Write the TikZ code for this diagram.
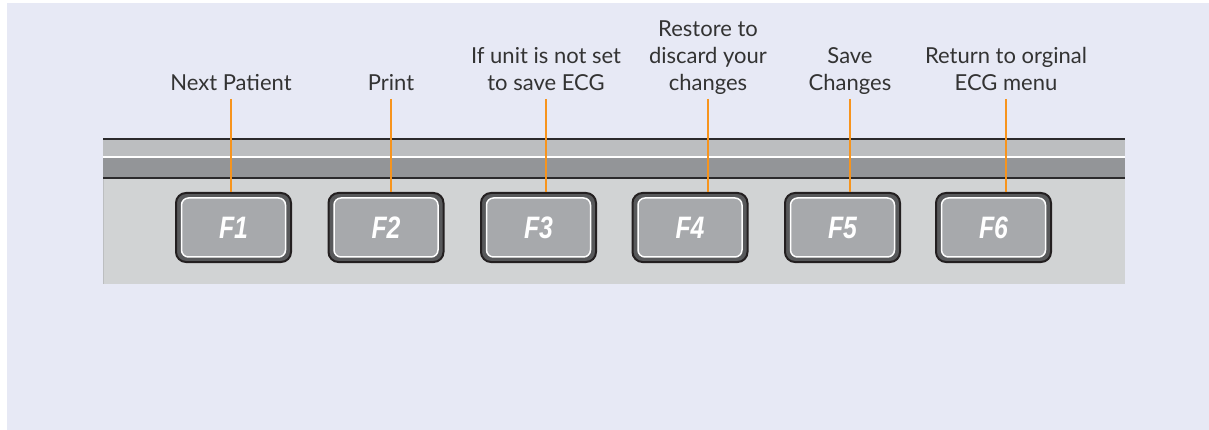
\documentclass[tikz,border=0pt]{standalone}
\usepackage{fontspec}
\setmainfont{Lato}
\newfontfamily\keyfont{Liberation Sans}
\definecolor{bgblue}{HTML}{E7E9F5}
\definecolor{panelgray}{HTML}{D1D3D4}
\definecolor{bandlight}{HTML}{BCBEC0}
\definecolor{banddark}{HTML}{939598}
\definecolor{panelline}{HTML}{2B2A2C}
\definecolor{keydark}{HTML}{58595B}
\definecolor{keyface}{HTML}{A7A9AC}
\definecolor{keyedge}{HTML}{231F20}
\definecolor{labelgray}{HTML}{333333}
\definecolor{leaderorange}{HTML}{F7941D}
\tikzset{
  fkey/.style={draw=keyedge, line width=2pt, fill=keydark, rounded corners=10pt,
    minimum width=115pt, minimum height=69pt, inner sep=0pt},
  fkeyface/.style={draw=white, line width=1.5pt, fill=keyface, rounded corners=7pt,
    minimum width=104pt, minimum height=59pt, inner sep=0pt},
  fkeytext/.style={text=white, inner sep=0pt,
    font=\keyfont\bfseries\itshape\fontsize{31}{31}\selectfont},
  callout/.style={text=labelgray, font=\fontsize{22}{27}\selectfont, align=center,
    anchor=south, inner sep=0pt, text depth=8pt},
  leader/.style={draw=leaderorange, line width=2.5pt}
}
\begin{document}
\begin{tikzpicture}[x=1pt,y=-1pt]
\useasboundingbox (0,0) rectangle (1209,430);
\fill[white] (0,0) rectangle (1209,430);
\fill[bgblue] (7,3) rectangle (1209,430);
%------------------ panel
\fill[panelgray] (103,139) rectangle (1125,284);
\fill[bandlight] (103,139) rectangle (1125,157);
\fill[banddark] (103,158) rectangle (1125,178);
\draw[panelline, line width=2pt] (103,139) -- (1125,139);
\draw[white, line width=2pt] (103,157.5) -- (1125,157.5);
\draw[panelline, line width=2pt] (103,178) -- (1125,178);
\draw[bandlight, line width=1pt] (103.5,179) -- (103.5,284);
%------------------ keys and labels
\foreach \kx/\lx/\txt [count=\i] in {233.5/231/Next Patient, 386/391/Print,
    538.5/546/{If unit is not set\\to save ECG},
    690/708/{Restore to\\discard your\\changes},
    842.5/850/{Save\\Changes},
    993.5/1006/{Return to orginal\\ECG menu}}{
  \node[fkey] (f\i) at (\kx,227.5) {};
  \node[fkeyface] (fface\i) at (f\i.center) {};
  \node[fkeytext] (fk\i) at (f\i.center) {\scalebox{0.8}[1]{F\i}};
  \node[callout] (l\i) at (\lx,99) {\txt};
  \draw[leader] (l\i.south) -- (l\i.south |- f\i.north);
}
\end{tikzpicture}
\end{document}
